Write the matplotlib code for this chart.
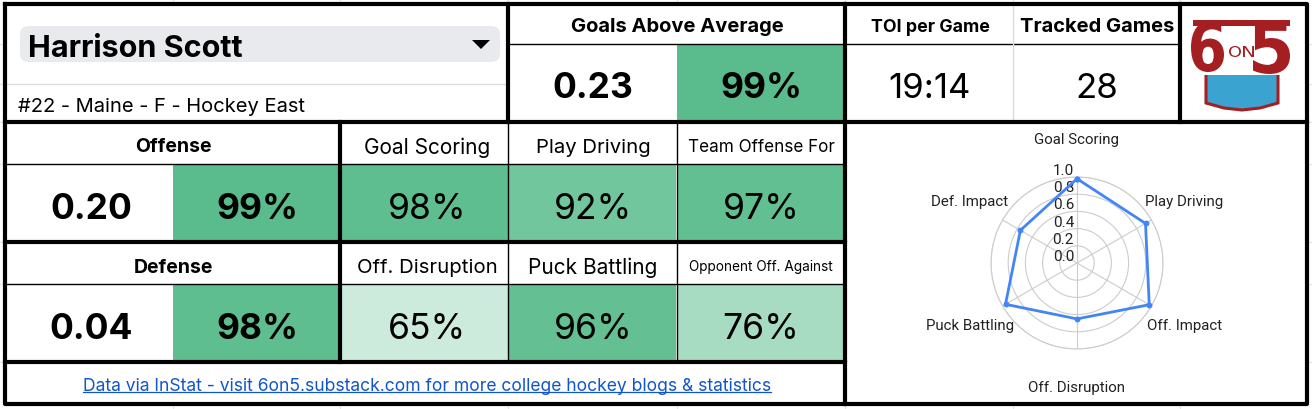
import numpy as np
import matplotlib
matplotlib.use('Agg')
import matplotlib.pyplot as plt
from matplotlib.patches import Rectangle, FancyBboxPatch, Polygon, PathPatch
from matplotlib.textpath import TextPath
from matplotlib.font_manager import FontProperties
from matplotlib.transforms import Affine2D, offset_copy

# player card data
player_name = 'Harrison Scott'
player_info = '#22 - Maine - F - Hockey East'
gaa_value = '0.23'
gaa_pct = 0.99
toi_per_game = '19:14'
tracked_games = 28

offense_value = '0.20'
offense_pct = 0.99
defense_value = '0.04'
defense_pct = 0.98

offense_labels = ['Goal Scoring', 'Play Driving', 'Team Offense For']
offense_pcts = [0.98, 0.92, 0.97]
defense_labels = ['Off. Disruption', 'Puck Battling', 'Opponent Off. Against']
defense_pcts = [0.65, 0.96, 0.76]

radar_labels = ['Goal Scoring', 'Play Driving', 'Off. Impact',
                'Off. Disruption', 'Puck Battling', 'Def. Impact']
radar_values = [0.98, 0.92, 0.97, 0.65, 0.96, 0.76]
radar_ticks = [0.0, 0.2, 0.4, 0.6, 0.8, 1.0]

footer_text = 'Data via InStat - visit 6on5.substack.com for more college hockey blogs & statistics'

TABLE_FONT = ['Inter', 'DejaVu Sans']
CHART_FONT = ['Roboto', 'DejaVu Sans']
GREEN = np.array([0x57, 0xbb, 0x8a]) / 255
RED = '#a51e22'
BLUE = '#3ba3d0'


def scale_color(p):
    # white -> green colour scale like the sheet's conditional formatting
    t = np.clip((p - 0.5) / 0.5, 0, 1)
    return tuple(1 + t * (GREEN - 1))


def txt(x, y, s, size, bold=False, **kw):
    return ax.text(x, y, s, fontsize=size, fontweight='bold' if bold else 'normal',
                   family=TABLE_FONT, ha=kw.pop('ha', 'center'), va='center_baseline', **kw)


def glyph(s, x0, y0, w, h, color, weight='bold'):
    tp = TextPath((0, 0), s, size=100, prop=FontProperties(family='DejaVu Sans', weight=weight))
    bb = tp.get_extents()
    tr = Affine2D().translate(-bb.x0, -bb.y0).scale(w / bb.width, -h / bb.height).translate(x0, y0 + h)
    ax.add_patch(PathPatch(tr.transform_path(tp), fc=color, ec='none', zorder=3))


fig = plt.figure(figsize=(13.12, 4.10), dpi=100)
ax = fig.add_axes([0, 0, 1, 1])
ax.set_xlim(0, 1312)
ax.set_ylim(410, 0)
ax.axis('off')

# faint spreadsheet grid in the margins
for gx in [173, 340, 508, 677, 845, 1013, 1180]:
    ax.axvline(gx, color='#e3e3e3', lw=0.8, zorder=0)
for gy in [45, 85, 123, 165, 243, 285, 363]:
    ax.axhline(gy, color='#e3e3e3', lw=0.8, zorder=0)
ax.add_patch(Rectangle((5, 5), 1302, 400, fc='white', ec='none', zorder=0.5))

# coloured cells
cols = [340, 508, 677]
ax.add_patch(Rectangle((677, 45), 168, 78, fc=scale_color(gaa_pct), ec='none', zorder=1))
ax.add_patch(Rectangle((173, 165), 167, 78, fc=scale_color(offense_pct), ec='none', zorder=1))
ax.add_patch(Rectangle((173, 285), 167, 78, fc=scale_color(defense_pct), ec='none', zorder=1))
for i in range(3):
    ax.add_patch(Rectangle((cols[i], 165), 168, 78, fc=scale_color(offense_pcts[i]), ec='none', zorder=1))
    ax.add_patch(Rectangle((cols[i], 285), 168, 78, fc=scale_color(defense_pcts[i]), ec='none', zorder=1))

# borders
thick = dict(color='black', lw=3.0, zorder=5, solid_capstyle='projecting')
thin = dict(color='black', lw=1.0, zorder=4)
light = dict(color='#dadce0', lw=1.0, zorder=4)
ax.plot([5, 1307, 1307, 5, 5], [5, 5, 405, 405, 5], **thick)
ax.plot([5, 1307], [123, 123], **thick)
ax.plot([508, 508], [5, 123], **thick)
ax.plot([340, 340], [123, 363], **thick)
ax.plot([845, 845], [5, 405], **thick)
ax.plot([1180, 1180], [5, 123], **thick)
ax.plot([5, 845], [243, 243], **thick)
ax.plot([5, 845], [363, 363], **thick)
ax.plot([508, 1180], [45, 45], **thin)
ax.plot([5, 845], [165, 165], **thin)
ax.plot([5, 845], [285, 285], **thin)
ax.plot([508, 508], [123, 363], **thin)
ax.plot([677, 677], [123, 363], **thin)
ax.plot([5, 508], [85, 85], **light)
ax.plot([1013, 1013], [5, 123], **light)

# name dropdown
ax.add_patch(FancyBboxPatch((20, 27), 480, 36, boxstyle='round,pad=0,rounding_size=9',
                            fc='#e8eaed', ec='none', zorder=2))
ax.add_patch(Polygon([(472, 41), (490, 41), (481, 50)], closed=True, fc='black', ec='none', zorder=3))
txt(28, 46, player_name, 22, bold=True, ha='left', zorder=3)
txt(18, 105, player_info, 14.5, ha='left')

# header stats
txt(677, 25, 'Goals Above Average', 14.5, bold=True)
txt(593, 85, gaa_value, 25.5, bold=True)
txt(761, 85, f'{gaa_pct:.0%}', 25.5, bold=True)
txt(930, 25, 'TOI per Game', 12.8, bold=True)
txt(1097, 25, 'Tracked Games', 14.5, bold=True)
txt(930, 85, toi_per_game, 25)
txt(1097, 85, str(tracked_games), 25)

# offense / defense blocks
txt(173, 145, 'Offense', 14, bold=True)
txt(91, 206, offense_value, 25.5, bold=True)
txt(257, 206, f'{offense_pct:.0%}', 25.5, bold=True)
txt(173, 266, 'Defense', 14, bold=True)
txt(91, 326, defense_value, 25.5, bold=True)
txt(257, 326, f'{defense_pct:.0%}', 25.5, bold=True)
head_sizes = [15, 14.6, 12.3]
def_sizes = [14.6, 15, 9.8]
centers = [427, 593, 761]
for i in range(3):
    txt(centers[i], 146, offense_labels[i], head_sizes[i])
    txt(centers[i], 206, f'{offense_pcts[i]:.0%}', 25.5)
    txt(centers[i], 266, defense_labels[i], def_sizes[i])
    txt(centers[i], 326, f'{defense_pcts[i]:.0%}', 25.5)

# footer link, underline follows the text width
link = ax.text(427, 385, footer_text, fontsize=12.6, family=TABLE_FONT, color='#1155cc',
               ha='center', va='center_baseline')
fig.canvas.draw()
bb = link.get_window_extent().transformed(ax.transData.inverted())
ax.plot([bb.x0, bb.x1], [393, 393], color='#1155cc', lw=0.9)

# 6on5 logo
ax.add_patch(Rectangle((1193, 21), 97, 6, fc=RED, ec='none', zorder=3))
glyph('6', 1191, 22, 33, 51, RED)
glyph('5', 1253, 22, 37, 53, RED)
glyph('O', 1229, 47, 12, 11, RED, weight='normal')
glyph('N', 1243, 47, 11, 11, RED, weight='normal')
ax.add_patch(Polygon([(1206, 76), (1206, 104), (1224, 109), (1242, 111), (1260, 109),
                      (1278, 104), (1278, 76)], closed=False, fc=BLUE, ec=RED, lw=2.2, zorder=3))

# radar chart
rax = fig.add_axes([991 / 1312, (410 - 350) / 410, 172 / 1312, 172 / 410], projection='polar')
rax.set_facecolor('none')
rax.set_theta_zero_location('N')
rax.set_theta_direction(-1)
angles = np.arange(len(radar_labels)) * 2 * np.pi / len(radar_labels)
closed_angles = np.append(angles, angles[0])
closed_values = np.append(radar_values, radar_values[0])
rax.set_ylim(0, 1)
rax.set_yticks(radar_ticks[1:])
rax.set_yticklabels([])
rax.set_xticks(angles)
rax.set_xticklabels([])
rax.grid(color='#cccccc', lw=0.8)
rax.spines['polar'].set_color('#cccccc')
rax.spines['polar'].set_linewidth(0.8)
rax.tick_params(length=0)

tick_tr = offset_copy(rax.transData, fig=fig, x=-3, y=7, units='dots')
for t in radar_ticks:
    rax.text(0, t, f'{t:.1f}', transform=tick_tr, ha='right', va='center',
             fontsize=11, family=CHART_FONT, color='#222222', zorder=2)
rax.plot(closed_angles, closed_values, color='#4285f4', lw=2.0, marker='o', ms=3.2, zorder=3,
         clip_on=False)
for a, lab in zip(angles, radar_labels):
    rax.text(a, 1.44, lab, ha='center', va='center', fontsize=10.8, family=CHART_FONT,
             color='#222222')

fig.savefig('out.png', dpi=100)
